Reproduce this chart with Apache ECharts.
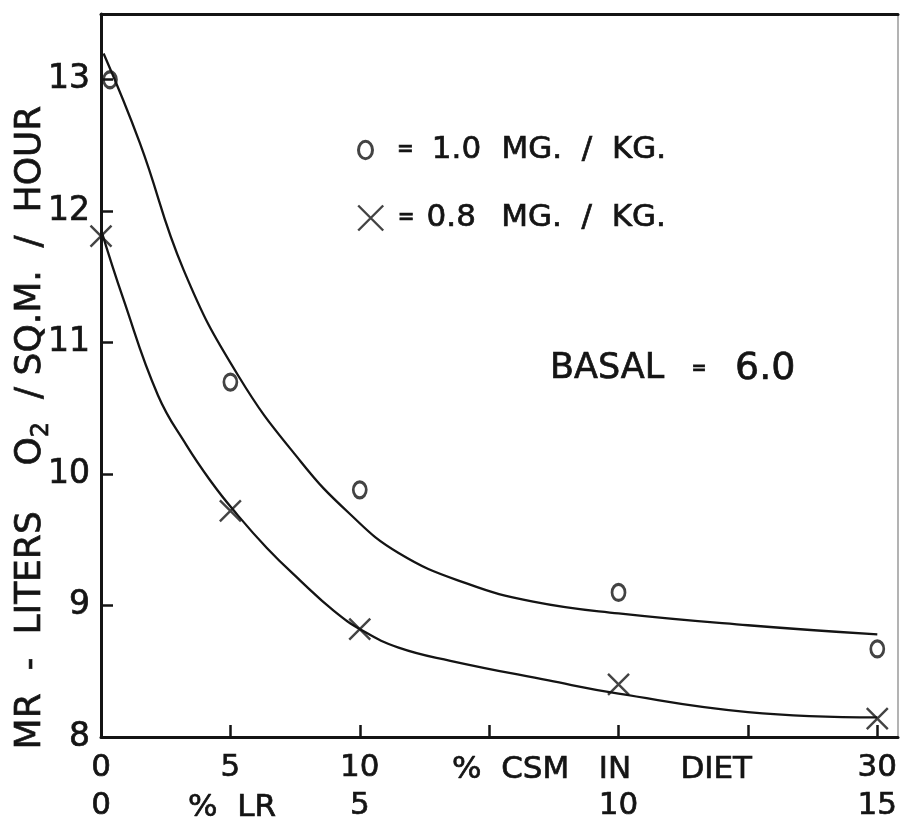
<!DOCTYPE html>
<html>
<head>
<meta charset="utf-8">
<script src="https://cdn.jsdelivr.net/npm/echarts@6/dist/echarts.min.js"></script>
<style>
  html, body { margin: 0; padding: 0; background: #ffffff; }
  #chart { width: 901px; height: 821px; }
</style>
</head>
<body>
<div id="chart"></div>
<script>
// % cottonseed meal in diet (lower axis, first row) and the matching % LR (second row)
const csmTickLabels = { 0: '0', 5: '5', 10: '10', 30: '30' };
const lrTickLabels = { 0: '0', 5: '5', 10: '10', 15: '15' };
const mrTickLabels = { 8: '8', 9: '9', 10: '10', 11: '11', 12: '12', 13: '13' };

// Measured points
const pointCsm = [0, 5, 10, 20, 30];
const mrDose10 = [13.0, 10.70, 9.88, 9.10, 8.67];   // o = 1.0 MG./KG.
const mrDose08 = [11.81, 9.72, 8.82, 8.40, 8.14];   // x = 0.8 MG./KG.

// Hand-fitted curves through each set
const curve10Csm = [0.1, 1.5, 3.2, 5.3, 7.7, 9.6, 11.5, 14.1, 16.7, 20, 25, 30];
const curve10Mr  = [13.20, 12.52, 11.55, 10.75, 10.10, 9.70, 9.40, 9.17, 9.03, 8.94, 8.85, 8.78];
const curve08Csm = [0, 0.85, 2.2, 3.3, 4.3, 5.1, 6.4, 7.7, 9.0, 10.1, 11.5, 13.5, 17.3, 20, 25, 30];
const curve08Mr  = [11.86, 11.34, 10.60, 10.22, 9.93, 9.73, 9.44, 9.19, 8.96, 8.81, 8.68, 8.58, 8.43, 8.33, 8.19, 8.15];

const FONT = 'DejaVu Sans';
const INK = '#141414';
const ring = 'path://M6,0 A6,7.5 0 1 1 6,15 A6,7.5 0 1 1 6,0 Z';
const cross = 'path://M0,0 L20,20 M20,0 L0,20';

// slight outline so the lettering reads as heavy as pen strokes
const heavy = { textBorderColor: INK, textBorderWidth: 0.7 };
const heavyG = { stroke: INK, lineWidth: 0.7 };

const zip = (xs, ys) => xs.map((x, i) => [x, ys[i]]);

const chart = echarts.init(document.getElementById('chart'), null, { renderer: 'canvas' });

const legendText = (eqW, numW, gap) => ({
  fontFamily: FONT, fontSize: 31, color: INK, lineHeight: 36, ...heavy,
  rich: {
    eq: { fontFamily: FONT, fontSize: 20, fontWeight: 'bold', color: INK, width: eqW, align: 'center', ...heavy },
    num: { fontFamily: FONT, fontSize: 31, color: INK, width: numW, align: 'center', ...heavy },
    u: { fontFamily: FONT, fontSize: 31, color: INK, padding: [0, 0, 0, gap], ...heavy }
  }
});

const option = {
  backgroundColor: '#ffffff',
  animation: false,
  grid: { left: 101, right: 3, top: 14, bottom: 84, containLabel: false, outerBoundsMode: 'none' },
  legend: [
    {
      left: 357, top: 132, padding: 0, orient: 'vertical', selectedMode: false,
      itemWidth: 14, itemHeight: 19,
      itemStyle: { color: 'rgba(0,0,0,0)', borderColor: INK, borderWidth: 3 },
      data: [{ name: '1.0', icon: ring }],
      formatter: () => '{eq|=}{num|1.0}{u|MG.  /  KG.}',
      textStyle: legendText(56, 46, 22)
    },
    {
      left: 357, top: 200, padding: 0, orient: 'vertical', selectedMode: false,
      itemWidth: 25, itemHeight: 26,
      itemStyle: { color: 'rgba(0,0,0,0)', borderColor: INK, borderWidth: 2.4 },
      data: [{ name: '0.8', icon: cross }],
      formatter: () => '{eq|=}{num|0.8}{u|MG.  /  KG.}',
      textStyle: legendText(36, 54, 23)
    }
  ],
  xAxis: [
    {
      type: 'value', min: 0, max: 30.8, interval: 5, position: 'bottom',
      splitLine: { show: false },
      axisLine: { onZero: false, lineStyle: { color: INK, width: 3 } },
      axisTick: { inside: true, length: 12, lineStyle: { color: INK, width: 2.5 } },
      axisLabel: {
        margin: 15, fontFamily: FONT, fontSize: 31, color: INK, ...heavy,
        showMaxLabel: false,
        formatter: v => csmTickLabels[v] ?? ''
      }
    },
    {
      type: 'value', min: 0, max: 15.4, interval: 5, position: 'bottom', offset: 38,
      splitLine: { show: false },
      axisLine: { show: false }, axisTick: { show: false },
      axisLabel: {
        margin: 15, fontFamily: FONT, fontSize: 31, color: INK, ...heavy,
        showMaxLabel: false,
        formatter: v => lrTickLabels[v] ?? ''
      }
    },
    {
      type: 'value', min: 0, max: 30.8, position: 'top',
      splitLine: { show: false },
      axisLine: { onZero: false, lineStyle: { color: INK, width: 3 } },
      axisTick: { show: false }, axisLabel: { show: false }
    }
  ],
  yAxis: [
    {
      type: 'value', min: 8, max: 13.5, interval: 1, position: 'left',
      splitLine: { show: false },
      axisLine: { onZero: false, lineStyle: { color: INK, width: 3 } },
      axisTick: { inside: true, length: 12, lineStyle: { color: INK, width: 2.5 } },
      axisLabel: {
        margin: 11, fontFamily: FONT, fontSize: 33, color: INK, ...heavy,
        formatter: v => mrTickLabels[v] ?? ''
      },
      name: '{t|MR  -  LITERS    O}{s|2}{t|  / SQ.M.  /  HOUR}',
      nameLocation: 'middle', nameRotate: 90, nameGap: 47, nameMoveOverlap: false,
      nameTextStyle: {
        padding: [0, 104, 0, 0],
        rich: {
          t: { fontFamily: FONT, fontSize: 36, color: INK, lineHeight: 46, ...heavy },
          s: { fontFamily: FONT, fontSize: 24, color: INK, lineHeight: 24, verticalAlign: 'bottom', ...heavy }
        }
      }
    },
    {
      type: 'value', min: 8, max: 13.5, position: 'right',
      splitLine: { show: false },
      axisLine: { onZero: false, lineStyle: { color: '#9a9a9a', width: 1.5 } },
      axisTick: { show: false }, axisLabel: { show: false }
    }
  ],
  graphic: [
    {
      type: 'text', x: 452, y: 770,
      style: { text: '%  CSM   IN     DIET', fontFamily: FONT, fontSize: 31, fill: INK, ...heavyG, verticalAlign: 'middle' }
    },
    {
      type: 'text', x: 188, y: 808,
      style: { text: '%  LR', fontFamily: FONT, fontSize: 31, fill: INK, ...heavyG, verticalAlign: 'middle' }
    },
    {
      type: 'text', x: 550, y: 369,
      style: {
        text: '{b|BASAL}{e|=}{v|6.0}', verticalAlign: 'middle',
        rich: {
          b: { fontFamily: FONT, fontSize: 35, fill: INK, width: 130, align: 'left', ...heavyG },
          e: { fontFamily: FONT, fontSize: 18, fontWeight: 'bold', fill: INK, width: 38, align: 'center', ...heavyG },
          v: { fontFamily: FONT, fontSize: 38, fill: INK, padding: [0, 0, 0, 17], ...heavyG }
        }
      }
    }
  ],
  series: [
    {
      name: 'curve 1.0', type: 'line', smooth: 0.45,
      showSymbol: false, silent: true,
      lineStyle: { color: INK, width: 2.3 },
      data: zip(curve10Csm, curve10Mr), z: 2
    },
    {
      name: 'curve 0.8', type: 'line', smooth: 0.45,
      showSymbol: false, silent: true,
      lineStyle: { color: INK, width: 2.3 },
      data: zip(curve08Csm, curve08Mr), z: 2
    },
    {
      name: '1.0', type: 'scatter', symbol: ring, symbolSize: [13, 16],
      itemStyle: { color: 'rgba(0,0,0,0)', borderColor: INK, borderWidth: 3 }, z: 3,
      data: zip(pointCsm, mrDose10).map((p, i) => i === 0 ? { value: p, symbolOffset: [9, 0] } : p)
    },
    {
      name: '0.8', type: 'scatter', symbol: cross, symbolSize: 21,
      itemStyle: { color: 'rgba(0,0,0,0)', borderColor: INK, borderWidth: 2.4 }, z: 3,
      data: zip(pointCsm, mrDose08)
    }
  ]
};

chart.setOption(option);
</script>
</body>
</html>
